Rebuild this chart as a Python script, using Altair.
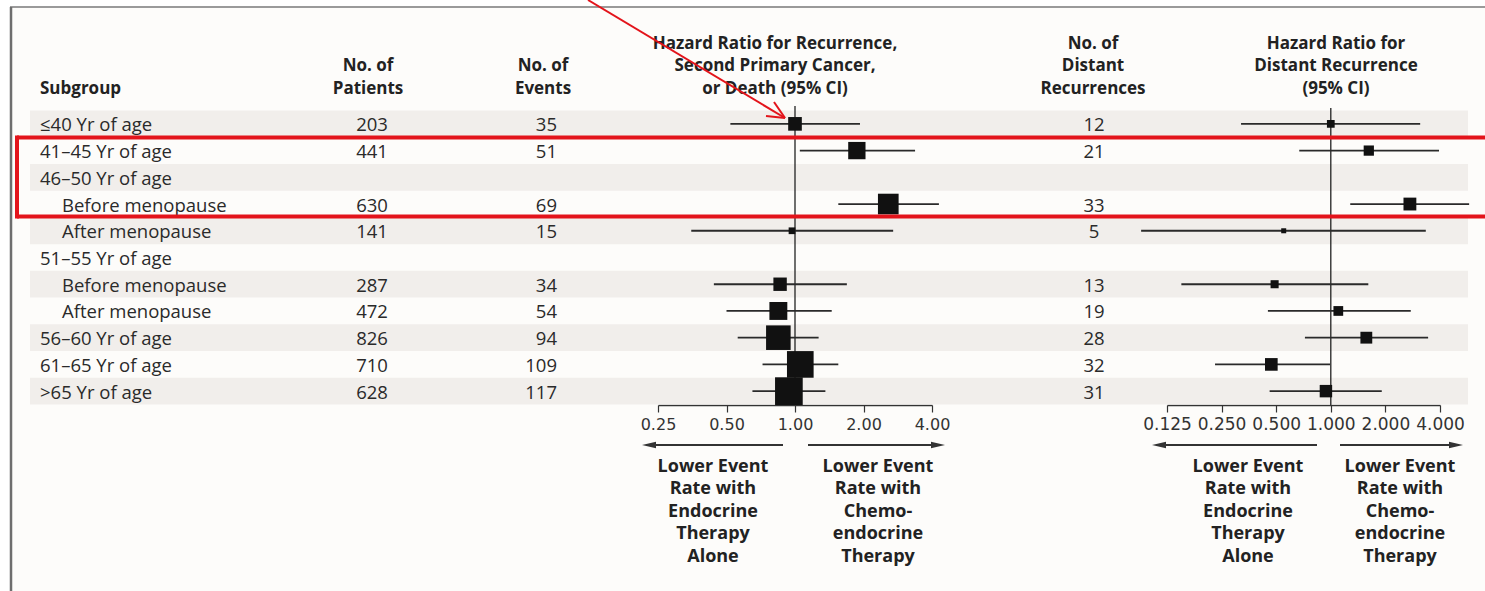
import altair as alt
import pandas as pd

# ---------------- data ----------------
subgroups = ["≤40 Yr of age", "41–45 Yr of age", "46–50 Yr of age", "Before menopause",
             "After menopause", "51–55 Yr of age", "Before menopause", "After menopause",
             "56–60 Yr of age", "61–65 Yr of age", ">65 Yr of age"]
indented = [False, False, False, True, True, False, True, True, False, False, False]
patients = [203, 441, None, 630, 141, None, 287, 472, 826, 710, 628]
events = [35, 51, None, 69, 15, None, 34, 54, 94, 109, 117]
hr_any = [1.00, 1.87, None, 2.57, 0.97, None, 0.86, 0.845, 0.845, 1.055, 0.94]
lo_any = [0.52, 1.05, None, 1.55, 0.35, None, 0.44, 0.50, 0.56, 0.72, 0.65]
hi_any = [1.93, 3.37, None, 4.29, 2.70, None, 1.69, 1.45, 1.27, 1.55, 1.36]
distant = [12, 21, None, 33, 5, None, 13, 19, 28, 32, 31]
hr_dist = [1.00, 1.62, None, 2.73, 0.55, None, 0.49, 1.10, 1.57, 0.47, 0.94]
lo_dist = [0.32, 0.67, None, 1.28, 0.09, None, 0.15, 0.45, 0.72, 0.23, 0.46]
hi_dist = [3.11, 3.95, None, 5.79, 3.34, None, 1.61, 2.76, 3.44, 0.99, 1.91]
ticks_any = [0.25, 0.5, 1, 2, 4]
ticks_dist = [0.125, 0.25, 0.5, 1, 2, 4]
reference_hr = [1.0]

headers = ["Subgroup", "No. of\nPatients", "No. of\nEvents",
           "Hazard Ratio for Recurrence,\nSecond Primary Cancer,\nor Death (95% CI)",
           "No. of\nDistant\nRecurrences", "Hazard Ratio for\nDistant Recurrence\n(95% CI)"]
favour_left = "Lower Event\nRate with\nEndocrine\nTherapy\nAlone"
favour_right = "Lower Event\nRate with\nChemo-\nendocrine\nTherapy"

df = pd.DataFrame({
    "idx": list(range(len(subgroups))), "subgroup": subgroups, "indent": indented,
    "patients": patients, "events": events, "hr_any": hr_any, "lo_any": lo_any,
    "hi_any": hi_any, "distant": distant, "hr_dist": hr_dist, "lo_dist": lo_dist,
    "hi_dist": hi_dist,
})
ref_df = pd.DataFrame({"hr": reference_hr})
hdr_df = pd.DataFrame({"k": list(range(len(headers))), "label": headers})
fav_df = pd.DataFrame({"k": [0, 1], "label": [favour_left, favour_right]})
one = pd.DataFrame({"k": [0]})

# ---------------- style ----------------
BODY_FONT = "Open Sans"
BODY_SIZE = 18.5
HEAD_SIZE = 17
FAV_SIZE = 18
INK = "#2a2a2a"
AXIS_FONT = "DejaVu Sans"

yscale = alt.Scale(domain=[-0.5, 10.5], range=[110.5, 404.5], nice=False, zero=False)
Y = alt.Y("idx:Q", scale=yscale, axis=None)

base = alt.Chart(df)

# white margin outside the frame, and the frame lines
margin_l = alt.Chart(one).mark_rect(color="#ffffff").encode(
    x=alt.value(0), x2=alt.value(10), y=alt.value(0), y2=alt.value(591))
margin_t = alt.Chart(one).mark_rect(color="#ffffff").encode(
    x=alt.value(0), x2=alt.value(1485), y=alt.value(0), y2=alt.value(7))
top_border = alt.Chart(one).mark_rule(color="#9a9a9a", strokeWidth=2).encode(
    x=alt.value(10), x2=alt.value(1485), y=alt.value(7))
left_border = alt.Chart(one).mark_rule(color="#6e6e6e", strokeWidth=2.5).encode(
    x=alt.value(11), y=alt.value(7), y2=alt.value(591))

bands = base.transform_filter("datum.idx % 2 == 0").transform_calculate(
    y0="datum.idx - 0.5", y1="datum.idx + 0.5"
).mark_rect(color="#f1eeeb").encode(
    x=alt.value(30), x2=alt.value(1468),
    y=alt.Y("y0:Q", scale=yscale, axis=None), y2="y1:Q")


def make_axis(values, fmt, size):
    return alt.Axis(orient="bottom", offset=-186, values=values, format=fmt, title=None,
                    grid=False, labelFont=AXIS_FONT, labelFontSize=size, labelColor="#333",
                    tickSize=7, tickColor="#333", tickWidth=1.2, domainColor="#333",
                    domainWidth=1.5, labelPadding=4, labelOverlap=False, labelFlush=False,
                    labelBound=False, zindex=0)


# ---------------- left forest ----------------
xl = alt.Scale(type="log", domain=[0.25, 4], range=[658, 932], nice=False)
axl = make_axis(ticks_any, ".2f", 16)
ref_l = alt.Chart(ref_df).mark_rule(color="#222", strokeWidth=1.3).encode(
    x=alt.X("hr:Q", scale=xl, axis=None), y=alt.value(106), y2=alt.value(405))
ci_l = base.transform_filter("isValid(datum.hr_any)").mark_rule(
    color="#2a2a2a", strokeWidth=1.8).encode(
    x=alt.X("lo_any:Q", scale=xl, axis=axl), x2="hi_any:Q", y=Y)
sq_l = base.transform_filter("isValid(datum.hr_any)").mark_square(
    color="#111", opacity=1).encode(
    x=alt.X("hr_any:Q", scale=xl, axis=None), y=Y,
    size=alt.Size("events:Q", scale=alt.Scale(domain=[15, 117], range=[45, 767]), legend=None))

# ---------------- right forest ----------------
xr = alt.Scale(type="log", domain=[0.125, 4], range=[1167, 1440], nice=False)
axr = make_axis(ticks_dist, ".3f", 17)
ref_r = alt.Chart(ref_df).mark_rule(color="#222", strokeWidth=1.3).encode(
    x=alt.X("hr:Q", scale=xr, axis=None), y=alt.value(108), y2=alt.value(405))
ci_r = base.transform_filter("isValid(datum.hr_dist)").mark_rule(
    color="#2a2a2a", strokeWidth=1.8).encode(
    x=alt.X("lo_dist:Q", scale=xr, axis=axr), x2="hi_dist:Q", y=Y)
sq_r = base.transform_filter("isValid(datum.hr_dist)").mark_square(
    color="#111", opacity=1).encode(
    x=alt.X("hr_dist:Q", scale=xr, axis=None), y=Y,
    size=alt.Size("distant:Q", scale=alt.Scale(domain=[5, 33], range=[25, 165]), legend=None))

# ---------------- table text ----------------
txt = dict(font=BODY_FONT, fontSize=BODY_SIZE, color=INK, baseline="middle", dy=1.5)
lab_main = base.transform_filter("!datum.indent").mark_text(align="left", **txt).encode(
    x=alt.value(40), y=Y, text="subgroup:N")
lab_sub = base.transform_filter("datum.indent").mark_text(align="left", **txt).encode(
    x=alt.value(62), y=Y, text="subgroup:N")
pat_t = base.transform_filter("isValid(datum.patients)").mark_text(align="center", **txt).encode(
    x=alt.value(372), y=Y, text=alt.Text("patients:Q", format="d"))
evt_t = base.transform_filter("isValid(datum.events)").mark_text(align="right", **txt).encode(
    x=alt.value(557), y=Y, text=alt.Text("events:Q", format="d"))
dst_t = base.transform_filter("isValid(datum.distant)").mark_text(align="center", **txt).encode(
    x=alt.value(1094), y=Y, text=alt.Text("distant:Q", format="d"))

# headers: (x, first-line centre, align)
hdr_layout = [(40, 87.5, "left"), (368, 65, "center"), (543, 65, "center"),
              (775, 42.5, "center"), (1093, 42.5, "center"), (1336, 42.5, "center")]
hdr_layers = []
for k, (hx, hy, ha) in enumerate(hdr_layout):
    hdr_layers.append(
        alt.Chart(hdr_df).transform_filter(f"datum.k == {k}").mark_text(
            font=BODY_FONT, fontWeight="bold", fontSize=HEAD_SIZE, color="#222",
            align=ha, baseline="top", lineBreak="\n", lineHeight=22.5).encode(
            x=alt.value(hx), y=alt.value(hy - 7), text="label:N"))

# favour labels under the axes
fav_layout = [(0, 713), (1, 878), (0, 1248), (1, 1400)]
fav_layers = []
for k, fx in fav_layout:
    fav_layers.append(
        alt.Chart(fav_df).transform_filter(f"datum.k == {k}").mark_text(
            font=BODY_FONT, fontWeight="bold", fontSize=FAV_SIZE, color="#222",
            align="center", baseline="top", lineBreak="\n", lineHeight=22.5).encode(
            x=alt.value(fx), y=alt.value(465 - 7.5), text="label:N"))

# direction arrows
arrow_layers = []
for x_from, x_to in [(783, 650), (808, 937), (1317, 1160), (1340, 1455)]:
    arrow_layers.append(alt.Chart(one).mark_rule(color="#333", strokeWidth=2).encode(
        x=alt.value(x_from), x2=alt.value(x_to), y=alt.value(445)))
for tip, shape in [(642, "M-1,0L1,-0.45L1,0.45Z"), (945, "M1,0L-1,-0.45L-1,0.45Z"),
                   (1152, "M-1,0L1,-0.45L1,0.45Z"), (1463, "M1,0L-1,-0.45L-1,0.45Z")]:
    cx = tip + 7 if shape.startswith("M-1") else tip - 7
    arrow_layers.append(alt.Chart(one).mark_point(
        shape=shape, filled=True, color="#333", size=196, opacity=1).encode(
        x=alt.value(cx), y=alt.value(445)))

# red annotation: arrow and box
RED = "#e3141b"
red_layers = [
    alt.Chart(one).mark_rule(color=RED, strokeWidth=2).encode(
        x=alt.value(588), y=alt.value(0), x2=alt.value(785), y2=alt.value(118)),
    alt.Chart(one).mark_rule(color=RED, strokeWidth=2).encode(
        x=alt.value(785), y=alt.value(118), x2=alt.value(766), y2=alt.value(116)),
    alt.Chart(one).mark_rule(color=RED, strokeWidth=2).encode(
        x=alt.value(785), y=alt.value(118), x2=alt.value(774), y2=alt.value(102)),
    alt.Chart(one).mark_rule(color=RED, strokeWidth=4).encode(
        x=alt.value(17), x2=alt.value(1485), y=alt.value(137.5)),
    alt.Chart(one).mark_rule(color=RED, strokeWidth=4).encode(
        x=alt.value(17), x2=alt.value(1485), y=alt.value(216.5)),
    alt.Chart(one).mark_rule(color=RED, strokeWidth=4).encode(
        x=alt.value(17), y=alt.value(135.5), y2=alt.value(218.5)),
]

chart = alt.layer(
    margin_l, margin_t, top_border, left_border, bands,
    ref_l, ci_l, sq_l, ref_r, ci_r, sq_r,
    lab_main, lab_sub, pat_t, evt_t, dst_t,
    *hdr_layers, *fav_layers, *arrow_layers, *red_layers,
).resolve_scale(x="independent", size="independent").properties(
    width=1485, height=591, padding=0, background="#ffffff",
    autosize=alt.AutoSizeParams(type="none"),
).configure_view(stroke=None, fill="#fdfcfa")

chart.save("out.html", embed_options={"renderer": "svg", "actions": False})
